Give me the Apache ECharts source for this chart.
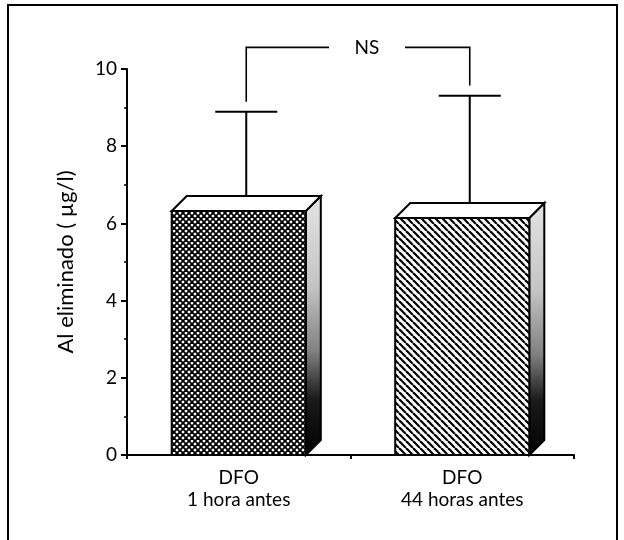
<!DOCTYPE html>
<html>
<head>
<meta charset="utf-8">
<script src="https://cdn.jsdelivr.net/npm/echarts@6/dist/echarts.min.js"></script>
<style>
html,body{margin:0;padding:0;background:#fff;}
#c{width:624px;height:540px;}
</style>
</head>
<body>
<div id="c"></div>
<script>
// ---- data ----
const categories = ['DFO\n1 hora antes', 'DFO\n44 horas antes'];
const means = [6.32, 6.14];
const errorTops = [8.89, 9.31];
const yTicks = [0, 2, 4, 6, 8, 10];
const bracketLevel = 10.56;
const bracketLegs = [9.15, 9.57];
const bracketLabel = 'NS';
const yName = 'Al eliminado ( µg/l)';

// ---- patterns ----
function crossPattern() {
  const s = 6;
  const c = document.createElement('canvas');
  c.width = s; c.height = s;
  const g = c.getContext('2d');
  g.fillStyle = '#fff'; g.fillRect(0, 0, s, s);
  g.strokeStyle = '#000'; g.lineWidth = 1.8;
  for (let k = -1; k <= 1; k++) {
    g.beginPath(); g.moveTo(k * s, 0); g.lineTo(k * s + s, s); g.stroke();
    g.beginPath(); g.moveTo(k * s + s, 0); g.lineTo(k * s, s); g.stroke();
  }
  return { image: c, repeat: 'repeat' };
}
function diagPattern() {
  const s = 7;
  const c = document.createElement('canvas');
  c.width = s; c.height = s;
  const g = c.getContext('2d');
  g.fillStyle = '#fff'; g.fillRect(0, 0, s, s);
  g.strokeStyle = '#000'; g.lineWidth = 2.2;
  for (let k = -1; k <= 1; k++) {
    g.beginPath(); g.moveTo(k * s, 0); g.lineTo(k * s + s, s); g.stroke();
  }
  return { image: c, repeat: 'repeat' };
}
const patterns = [crossPattern(), diagPattern()];
const DX = 15, DY = 15;
const FONT = 'Lato';

const chart = echarts.init(document.getElementById('c'), null, { renderer: 'canvas' });

function barItem(params, api) {
  const i = api.value(0);
  const top = api.coord([i, api.value(1)]);
  const base = api.coord([i, 0]);
  const w = api.size([1, 0])[0] * 0.6;
  const x0 = top[0] - w / 2, x1 = top[0] + w / 2;
  const yt = top[1], yb = base[1];
  const side = new echarts.graphic.LinearGradient(0, 0, 0, 1, [
    { offset: 0, color: '#e4e4e4' },
    { offset: 0.35, color: '#c4c4c4' },
    { offset: 0.6, color: '#808080' },
    { offset: 0.78, color: '#1a1a1a' },
    { offset: 1, color: '#000' }
  ]);
  return {
    type: 'group',
    children: [
      { type: 'polygon', shape: { points: [[x1, yt], [x1 + DX, yt - DY], [x1 + DX, yb - DY], [x1, yb]] },
        style: { fill: side, stroke: '#000', lineWidth: 2 } },
      { type: 'polygon', shape: { points: [[x0, yt], [x0 + DX, yt - DY], [x1 + DX, yt - DY], [x1, yt]] },
        style: { fill: '#fff', stroke: '#000', lineWidth: 2 } },
      { type: 'rect', shape: { x: x0, y: yt, width: w, height: yb - yt },
        style: { fill: patterns[i], stroke: '#000', lineWidth: 2 } }
    ]
  };
}

function errItem(params, api) {
  const i = api.value(0);
  const p0 = api.coord([i, api.value(1)]);
  const p1 = api.coord([i, api.value(2)]);
  const x = p0[0] + DX / 2;
  const cw = 31;
  return {
    type: 'group',
    children: [
      { type: 'line', shape: { x1: x, y1: p0[1] - DY / 2, x2: x, y2: p1[1] }, style: { stroke: '#000', lineWidth: 2 } },
      { type: 'line', shape: { x1: x - cw, y1: p1[1], x2: x + cw, y2: p1[1] }, style: { stroke: '#000', lineWidth: 2 } }
    ]
  };
}

function bracketItem(params, api) {
  const l = api.coord([0, api.value(1)]);
  const r = api.coord([1, api.value(2)]);
  const lv = api.coord([0, api.value(0)])[1];
  const xl = l[0] + DX / 2, xr = r[0] + DX / 2;
  const cx = (xl + xr) / 2 + 9;
  const gap = 38;
  return {
    type: 'group',
    children: [
      { type: 'polyline', shape: { points: [[xl, l[1]], [xl, lv], [cx - gap, lv]] }, style: { stroke: '#000', lineWidth: 1.6, fill: null } },
      { type: 'polyline', shape: { points: [[cx + gap, lv], [xr, lv], [xr, r[1]]] }, style: { stroke: '#000', lineWidth: 1.6, fill: null } },
      { type: 'text', x: cx, y: lv, style: { text: bracketLabel, fontFamily: FONT, fontSize: 19, fill: '#000', align: 'center', verticalAlign: 'middle' } }
    ]
  };
}

chart.setOption({
  animation: false,
  backgroundColor: '#fff',
  grid: { left: 127, right: 50, top: 69, bottom: 85 },
  graphic: [
    { type: 'rect', shape: { x: 8, y: 5, width: 609, height: 560 }, style: { fill: null, stroke: '#000', lineWidth: 2 }, z: 100 }
  ],
  xAxis: {
    type: 'category',
    data: categories,
    axisLine: { lineStyle: { color: '#000', width: 2 } },
    axisTick: { show: true, length: 4, lineStyle: { color: '#000', width: 2 } },
    axisLabel: { color: '#000', fontFamily: FONT, fontSize: 19, lineHeight: 22, margin: 12 },
    splitLine: { show: false }
  },
  yAxis: {
    type: 'value',
    min: yTicks[0], max: yTicks[yTicks.length - 1], interval: 2,
    name: yName, nameLocation: 'middle', nameGap: 50,
    nameTextStyle: { color: '#000', fontFamily: FONT, fontSize: 22 },
    axisLine: { show: true, lineStyle: { color: '#000', width: 2 } },
    axisTick: { show: true, length: 6, lineStyle: { color: '#000', width: 2 } },
    minorTick: { show: true, splitNumber: 2, length: 3, lineStyle: { color: '#000', width: 1.5 } },
    axisLabel: { color: '#000', fontFamily: FONT, fontSize: 19, margin: 10 },
    splitLine: { show: false }
  },
  series: [
    { type: 'custom', renderItem: barItem, data: means.map((v, i) => [i, v]), z: 2 },
    { type: 'custom', renderItem: errItem, data: means.map((v, i) => [i, v, errorTops[i]]), z: 1 },
    { type: 'custom', renderItem: bracketItem, data: [[bracketLevel, bracketLegs[0], bracketLegs[1]]], z: 3, clip: false }
  ]
});
</script>
</body>
</html>
